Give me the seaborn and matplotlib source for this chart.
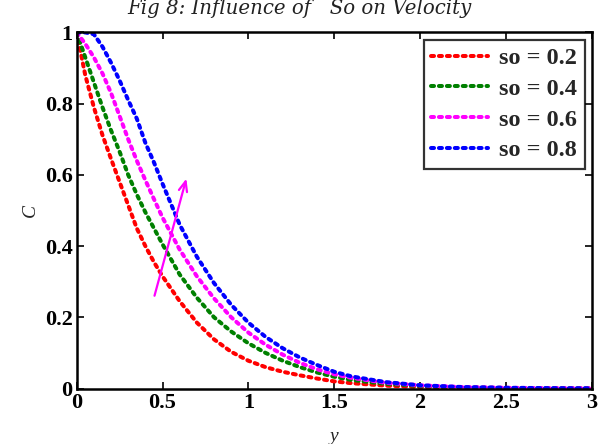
import numpy as np
import pandas as pd
import matplotlib
matplotlib.use("Agg")
import matplotlib.pyplot as plt
import seaborn as sns
from matplotlib.lines import Line2D

# ---- data ----
y_vals = [0.0, 0.05, 0.1, 0.15, 0.2, 0.25, 0.3, 0.35, 0.4, 0.45, 0.5, 0.6, 0.7,
          0.8, 0.9, 1.0, 1.1, 1.2, 1.3, 1.4, 1.5, 1.6, 1.8, 2.0, 2.25, 2.5, 2.75, 3.0]
c_so02 = [1.0, 0.88, 0.79, 0.712, 0.645, 0.58, 0.515, 0.45, 0.40, 0.355, 0.315, 0.245,
          0.185, 0.138, 0.103, 0.078, 0.060, 0.047, 0.037, 0.028, 0.020, 0.015,
          0.008, 0.004, 0.002, 0.001, 0.0005, 0.0002]
c_so04 = [1.0, 0.93, 0.86, 0.79, 0.725, 0.665, 0.60, 0.545, 0.495, 0.45, 0.405, 0.32,
          0.255, 0.20, 0.16, 0.127, 0.10, 0.078, 0.06, 0.045, 0.033, 0.024,
          0.013, 0.007, 0.003, 0.0015, 0.0007, 0.0003]
c_so06 = [1.0, 0.968, 0.93, 0.885, 0.83, 0.765, 0.70, 0.64, 0.585, 0.532, 0.48, 0.39,
          0.315, 0.253, 0.20, 0.157, 0.123, 0.095, 0.072, 0.054, 0.040, 0.030,
          0.016, 0.009, 0.004, 0.002, 0.001, 0.0005]
c_so08 = [1.0, 1.0, 0.995, 0.96, 0.915, 0.865, 0.81, 0.758, 0.69, 0.635, 0.575, 0.46,
          0.37, 0.296, 0.235, 0.185, 0.145, 0.113, 0.087, 0.066, 0.047, 0.034,
          0.018, 0.009, 0.004, 0.002, 0.001, 0.0005]
labels = ["so = 0.2", "so = 0.4", "so = 0.6", "so = 0.8"]
colors = ["#ff0000", "#008000", "#ff00ff", "#0000ff"]
x_ticks = [0, 0.5, 1, 1.5, 2, 2.5, 3]
x_ticklabels = ["0", "0.5", "1", "1.5", "2", "2.5", "3"]
y_ticks = [0, 0.2, 0.4, 0.6, 0.8, 1]
y_ticklabels = ["0", "0.2", "0.4", "0.6", "0.8", "1"]
title = "Fig 8: Influence of   So on Velocity"

series = [c_so02, c_so04, c_so06, c_so08]
df = pd.concat([pd.DataFrame({"y": y_vals, "C": s, "series": lab})
                for s, lab in zip(series, labels)], ignore_index=True)

sns.set_theme(style="white")
plt.rcParams["font.family"] = ["Liberation Serif", "DejaVu Serif"]

fig = plt.figure(figsize=(5.99, 4.44), dpi=100)
ax = fig.add_axes([0.128, 0.125, 0.860, 0.802])

LW = 2.9
DASH = (0, (0.75, 1.22))
sns.lineplot(data=df, x="y", y="C", hue="series", palette=colors,
             hue_order=labels, ax=ax, legend=False, sort=False,
             linewidth=LW, linestyle=DASH, dash_capstyle="round")

ax.set_xlim(0, 3)
ax.set_ylim(0, 1)
ax.set_xticks(x_ticks)
ax.set_xticklabels(x_ticklabels)
ax.set_yticks(y_ticks)
ax.set_yticklabels(y_ticklabels)
for lab in ax.get_xticklabels() + ax.get_yticklabels():
    lab.set_fontweight("bold")
    lab.set_fontsize(16)
ax.tick_params(direction="in", length=5, width=1.2, top=True, right=True,
               bottom=True, left=True, pad=3, colors="black")
for sp in ax.spines.values():
    sp.set_color("black")
    sp.set_linewidth(1.8)

ax.set_xlabel("y", fontsize=14, fontstyle="italic")
ax.xaxis.set_label_coords(0.5, -0.11)
ax.set_ylabel("C", fontsize=14, fontstyle="italic")
ax.yaxis.set_label_coords(-0.074, 0.5)

# arrow
ax.annotate("", xy=(0.643, 0.597), xytext=(0.449, 0.253),
            arrowprops=dict(arrowstyle="->,head_length=0.6,head_width=0.25",
                            color="#ff00ff", lw=1.6))

# legend
handles = [Line2D([0], [0], color=c, lw=LW, linestyle=DASH, dash_capstyle="round")
           for c in colors]
leg = ax.legend(handles, labels, loc="upper right", frameon=True, fancybox=False,
                prop={"family": "Liberation Serif", "weight": "bold", "size": 17.5},
                handlelength=2.35, handletextpad=0.45, borderpad=0.3,
                labelspacing=0.36, borderaxespad=0.3)
leg.get_frame().set_edgecolor("black")
leg.get_frame().set_linewidth(1.6)

fig.text(0.5, 1 - 13.5 / 444, title, ha="center", va="baseline",
         fontsize=14.2, fontstyle="italic", family="DejaVu Serif", color="#222222")

fig.savefig("out.png", dpi=100, facecolor="white")
